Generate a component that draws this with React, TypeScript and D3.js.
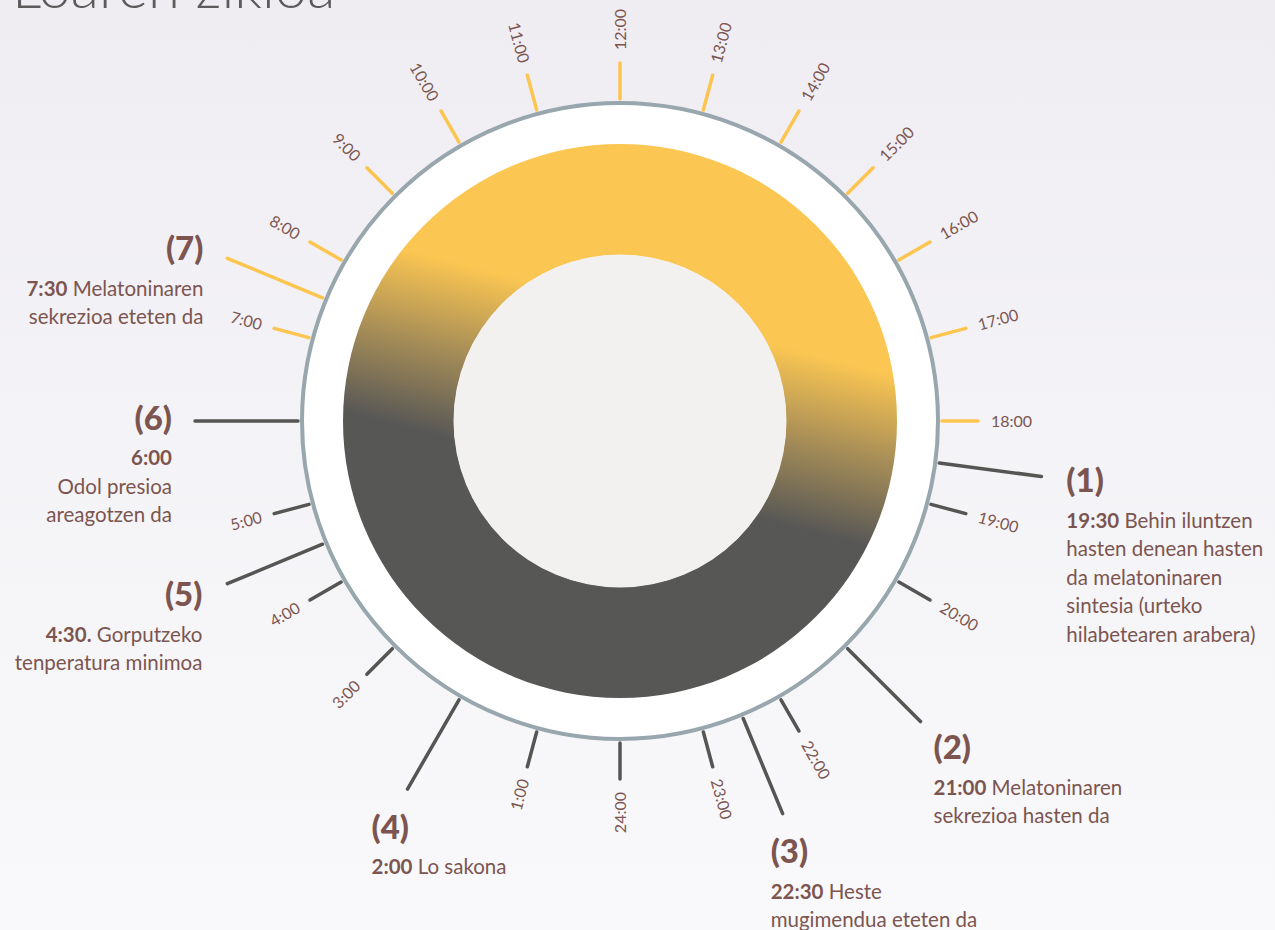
import { scaleLinear, arc, range } from 'd3';

// hours of the clock face (24h dial, 12:00 on top)
const hours = range(1, 25);
const dayHours = [7, 18]; // ticks drawn in yellow

// annotations: where each mark sits on the dial, its number, time and text
const annotHours = [18.5, 21, 22.5, 2, 4.5, 6, 7.5];
const annotNums = ['(1)', '(2)', '(3)', '(4)', '(5)', '(6)', '(7)'];
const annotTimes = ['19:30', '21:00', '22:30', '2:00', '4:30.', '6:00', '7:30'];
const annotLines = [
  [' Behin iluntzen', 'hasten denean hasten', 'da melatoninaren', 'sintesia (urteko', 'hilabetearen arabera)'],
  [' Melatoninaren', 'sekrezioa hasten da'],
  [' Heste', 'mugimendua eteten da'],
  [' Lo sakona'],
  [' Gorputzeko', 'tenperatura minimoa'],
  ['', 'Odol presioa', 'areagotzen da'],
  [' Melatoninaren', 'sekrezioa eteten da'],
];
// layout of each text block, relative to the end of its line
const annotLayout = [
  { dx: 25, dy: 4, anchor: 'start' },
  { dx: 13, dy: 26, anchor: 'start' },
  { dx: -12, dy: 38, anchor: 'start' },
  { dx: -36, dy: 38, anchor: 'start' },
  { dx: -25, dy: 11, anchor: 'end' },
  { dx: -23, dy: -3, anchor: 'end' },
  { dx: -24, dy: -10, anchor: 'end' },
];

const W = 1275;
const H = 930;
const cx = 620;
const cy = 421;
const R_OUT = 318;
const RING_OUT = 277;
const RING_IN = 166;
const TICK_IN = 322;
const TICK_OUT = 358;
const LABEL_R = 371;
const ANNOT_OUT = 425;

const YELLOW = '#fcc550';
const DARK = '#555554';
const BROWN = '#7c5550';
const FONT = 'Lato, "Open Sans", sans-serif';

const angle = scaleLinear().domain([0, 24]).range([-180, 180]);

const pt = (h: number, r: number) => {
  const a = (angle(h) * Math.PI) / 180;
  return [cx + r * Math.sin(a), cy - r * Math.cos(a)];
};

const isDay = (h: number) => h >= dayHours[0] && h <= dayHours[1];

const hourLabel = (h: number) => `${h}:00`;

const ringPath = arc()({
  innerRadius: RING_IN,
  outerRadius: RING_OUT,
  startAngle: 0,
  endAngle: 2 * Math.PI,
} as any) as string;

export default function App() {
  const tickHours = hours.filter((h) => !annotHours.includes(h));

  return (
    <svg
      width={W}
      height={H}
      style={{ position: 'absolute', left: 0, top: 0, fontFamily: FONT }}
    >
      <defs>
        <linearGradient id="bg" x1="0" y1="0" x2="0" y2="1">
          <stop offset="0" stopColor="#efedf2" />
          <stop offset="1" stopColor="#f9f9fb" />
        </linearGradient>
        <linearGradient id="ring" gradientUnits="userSpaceOnUse" x1={28} y1={-109} x2={-15} y2={58}>
          <stop offset="0" stopColor="#fbc652" />
          <stop offset="0.5" stopColor="#a68d57" />
          <stop offset="1" stopColor="#575756" />
        </linearGradient>
      </defs>
      <rect width={W} height={H} fill="url(#bg)" />

      <text x={12} y={8} fontSize={58} fontWeight={300} fill="#5b5b5b">
        Loaren zikloa
      </text>

      {/* hour ticks */}
      {tickHours.map((h) => {
        const [x1, y1] = pt(h, TICK_IN);
        const [x2, y2] = pt(h, TICK_OUT);
        return (
          <line key={`t${h}`} x1={x1} y1={y1} x2={x2} y2={y2}
            stroke={isDay(h) ? YELLOW : DARK} strokeWidth={3.5} strokeLinecap="round" />
        );
      })}

      {/* annotation lines */}
      {annotHours.map((h, i) => {
        const [x1, y1] = pt(h, TICK_IN);
        const [x2, y2] = pt(h, ANNOT_OUT);
        return (
          <line key={`a${i}`} x1={x1} y1={y1} x2={x2} y2={y2}
            stroke={isDay(h) ? YELLOW : DARK} strokeWidth={3.5} strokeLinecap="round" />
        );
      })}

      {/* dial */}
      <circle cx={cx} cy={cy} r={R_OUT} fill="#fff" stroke="#98a6ae" strokeWidth={4} />
      <g transform={`translate(${cx},${cy})`}>
        <path d={ringPath} fill="url(#ring)" />
        <circle r={RING_IN + 0.5} fill="#f2f1f0" />
      </g>

      {/* hour labels */}
      {tickHours.map((h) => {
        const [x, y] = pt(h, LABEL_R);
        const a = angle(h);
        const right = h >= 12 && h < 24;
        const rot = right ? a - 90 : a + 90;
        return (
          <text key={`l${h}`} x={x} y={y} dy="0.35em" fontSize={16} fill={BROWN}
            textAnchor={right ? 'start' : 'end'}
            transform={`rotate(${rot},${x},${y})`}>
            {hourLabel(h)}
          </text>
        );
      })}

      {/* annotation texts */}
      {annotHours.map((h, i) => {
        const [ex, ey] = pt(h, ANNOT_OUT);
        const L = annotLayout[i];
        const x = ex + L.dx;
        const y = ey + L.dy;
        const lines = annotLines[i];
        return (
          <g key={`n${i}`} fill={BROWN} textAnchor={L.anchor}>
            <text x={x} y={y} dy="0.35em" fontSize={33} fontWeight={900}>
              {annotNums[i]}
            </text>
            {lines.map((ln, j) => (
              <text key={j} x={x} y={y + 40 + j * 28.5} dy="0.35em" fontSize={20.5}>
                {j === 0 ? <tspan fontWeight={700}>{annotTimes[i]}</tspan> : null}
                {ln}
              </text>
            ))}
          </g>
        );
      })}
    </svg>
  );
}
